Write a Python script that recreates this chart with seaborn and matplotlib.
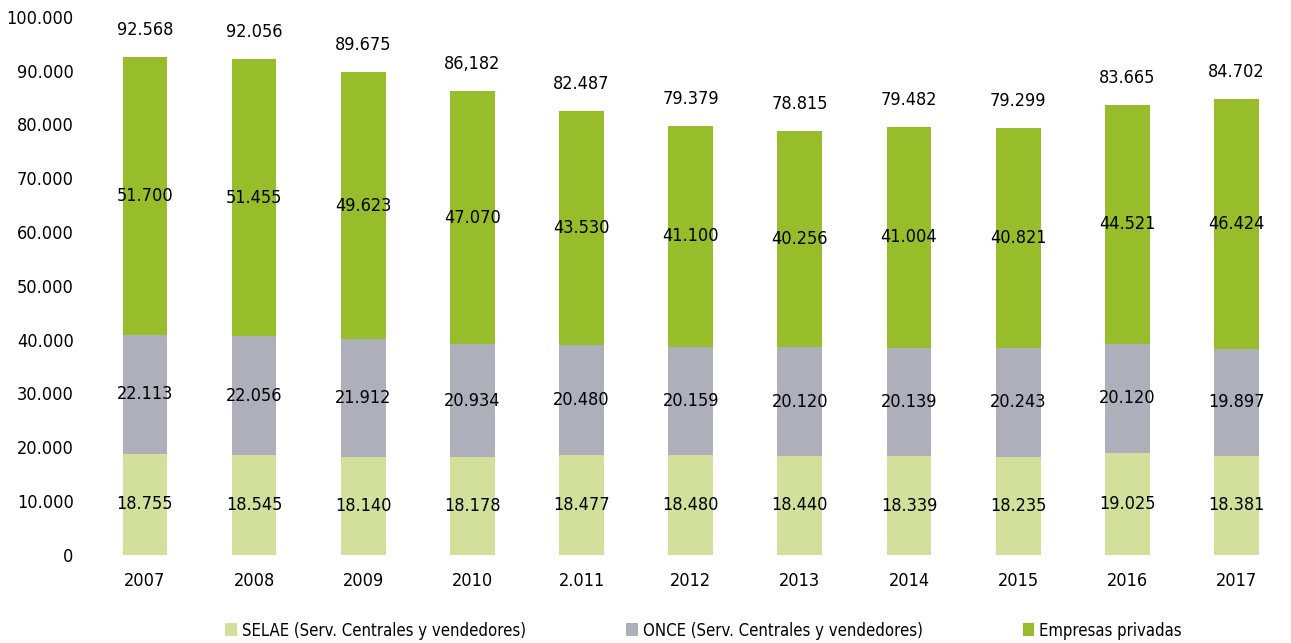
import numpy as np
import pandas as pd
import matplotlib
matplotlib.use("Agg")
import matplotlib.pyplot as plt
import seaborn as sns
import matplotlib.ticker as ticker
from matplotlib.patches import Patch

# datos
years = ['2007', '2008', '2009', '2010', '2.011', '2012', '2013', '2014', '2015', '2016', '2017']
selae = [18755, 18545, 18140, 18178, 18477, 18480, 18440, 18339, 18235, 19025, 18381]
once = [22113, 22056, 21912, 20934, 20480, 20159, 20120, 20139, 20243, 20120, 19897]
privadas = [51700, 51455, 49623, 47070, 43530, 41100, 40256, 41004, 40821, 44521, 46424]
total_labels = ['92.568', '92.056', '89.675', '86,182', '82.487', '79.379', '78.815',
                '79.482', '79.299', '83.665', '84.702']

series_names = ['SELAE (Serv. Centrales y vendedores)',
                'ONCE (Serv. Centrales y vendedores)',
                'Empresas privadas']
colors = ['#d2e09c', '#adb0ba', '#97bd2b']

df = pd.DataFrame({'year': years, 'selae': selae, 'once': once, 'privadas': privadas})
df['c1'] = df['selae']
df['c2'] = df['selae'] + df['once']
df['c3'] = df['c2'] + df['privadas']

sns.set_theme(style="white")
plt.rcParams['font.family'] = ['DejaVu Sans']
plt.rcParams['font.stretch'] = 'condensed'
plt.rcParams['text.color'] = 'black'
plt.rcParams['xtick.color'] = 'black'
plt.rcParams['ytick.color'] = 'black'

fig = plt.figure(figsize=(12.91, 6.43), dpi=100)
ax = fig.add_axes([0.07, 0.137, 0.93, 0.837])

# barras apiladas: de atrás hacia delante
for col, c in zip(['c3', 'c2', 'c1'], colors[::-1]):
    sns.barplot(data=df, x='year', y=col, color=c, width=0.41, linewidth=0,
                saturation=1, ax=ax, order=years)

ax.set_xlim(-0.5, len(years) - 0.5)
ax.set_ylim(0, 100000)
ax.set_yticks(np.arange(0, 100001, 10000))
ax.yaxis.set_major_formatter(ticker.FuncFormatter(
    lambda v, p: f'{int(v):,}'.replace(',', '.')))
ax.set_xlabel('')
ax.set_ylabel('')
ax.tick_params(axis='both', length=0, labelsize=13)
ax.tick_params(axis='x', pad=12)
ax.tick_params(axis='y', pad=12)
for s in ax.spines.values():
    s.set_visible(False)
ax.grid(False)

# etiquetas de valores
fmt = lambda v: f'{v:,}'.replace(',', '.')
fs = 13
for i in range(len(years)):
    ax.text(i, df['selae'][i] / 2, fmt(selae[i]), ha='center', va='center', fontsize=fs)
    ax.text(i, df['selae'][i] + once[i] / 2, fmt(once[i]), ha='center', va='center', fontsize=fs)
    ax.text(i, df['c2'][i] + privadas[i] / 2, fmt(privadas[i]), ha='center', va='center', fontsize=fs)
    ax.annotate(total_labels[i], (i, df['c3'][i]), xytext=(0, 13), textcoords='offset points',
                ha='center', va='bottom', fontsize=fs)

handles = [Patch(facecolor=c, edgecolor='none') for c in colors]
fig.legend(handles, series_names, loc='lower center', bbox_to_anchor=(0.545, -0.018), ncol=3,
           frameon=False, fontsize=12, handlelength=0.7, handleheight=0.8,
           handletextpad=0.3, columnspacing=6.0)

fig.savefig('out.png', dpi=100)
